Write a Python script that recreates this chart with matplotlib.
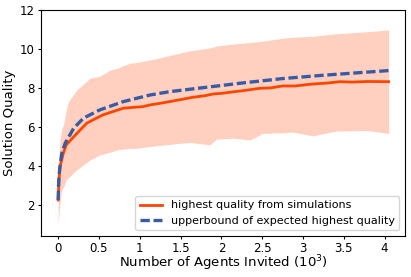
import matplotlib
matplotlib.use("Agg")
import matplotlib.pyplot as plt

# values (x in thousands of agents)
sim_x = [0.0, 0.01, 0.025, 0.065, 0.1, 0.23, 0.35, 0.55, 0.8, 1.04, 1.13, 1.25, 1.37,
         1.5, 1.65, 1.8, 1.9, 2.0, 2.15, 2.27, 2.47, 2.6, 2.75, 2.9, 3.12, 3.3, 3.45,
         3.6, 3.8, 4.05]
sim_y = [2.25, 3.3, 4.0, 4.67, 5.08, 5.67, 6.19, 6.62, 6.96, 7.04, 7.13, 7.21, 7.3,
         7.4, 7.52, 7.6, 7.69, 7.72, 7.8, 7.86, 7.98, 8.0, 8.1, 8.1, 8.2, 8.25, 8.32,
         8.3, 8.33, 8.32]

bound_x = [0.0, 0.005, 0.01, 0.02, 0.045, 0.086, 0.19, 0.31, 0.51, 0.8, 1.13, 1.37,
           1.75, 2.25, 2.75, 3.25, 3.75, 4.05]
bound_y = [2.25, 3.0, 3.4, 3.9, 4.65, 5.16, 5.93, 6.45, 6.87, 7.3, 7.64, 7.81,
           8.0, 8.25, 8.48, 8.65, 8.8, 8.89]

band_x = [0.0, 0.01, 0.025, 0.045, 0.065, 0.1, 0.126, 0.23, 0.39, 0.51, 0.64, 0.72,
          0.88, 0.96, 1.2, 1.5, 1.61, 1.86, 1.94, 2.14, 2.35, 2.51, 2.75, 2.88, 3.12,
          3.41, 3.78, 3.98, 4.05]
band_hi = [2.5, 4.5, 5.4, 5.9, 6.1, 6.9, 7.3, 7.9, 8.5, 8.6, 8.92, 9.0,
           9.27, 9.3, 9.5, 9.8, 9.9, 10.05, 10.15, 10.25, 10.33, 10.4, 10.55, 10.6, 10.65,
           10.78, 10.88, 10.95, 10.97]
band_lo = [1.0, 1.5, 2.2, 2.77, 2.9, 3.28, 3.4, 3.8, 4.3, 4.56, 4.7, 4.82,
           4.9, 4.9, 5.03, 5.16, 5.2, 5.08, 5.37, 5.42, 5.33, 5.67, 5.7, 5.73, 5.54,
           5.79, 5.81, 5.71, 5.65]

xticks = [0, 0.5, 1, 1.5, 2, 2.5, 3, 3.5, 4]
xticklabels = ["0", "0.5", "1", "1.5", "2", "2.5", "3", "3.5", "4"]
yticks = [2, 4, 6, 8, 10, 12]

fig = plt.figure(figsize=(4.11, 2.77), dpi=100)
ax = fig.add_axes([0.0998, 0.148, 0.8856, 0.816])

ax.fill_between(band_x, band_lo, band_hi, color='#ff4500', alpha=0.25, linewidth=0)
ax.plot(sim_x, sim_y, color='#ff4500', lw=2, label='highest quality from simulations')
ax.plot(bound_x, bound_y, color='#3a5ba3', lw=2.4, ls='--', dashes=(2.8, 1.1),
        label='upperbound of expected highest quality')

ax.set_xlim(-0.21, 4.25)
ax.set_ylim(0.4, 12)
ax.set_xticks(xticks)
ax.set_xticklabels(xticklabels)
ax.set_yticks(yticks)
ax.tick_params(labelsize=8.5, length=2.5, pad=2)
ax.set_xlabel(r'Number of Agents Invited ($10^3$)', fontsize=9.5, labelpad=-1)
ax.set_ylabel('Solution Quality', fontsize=9.5, labelpad=3)
ax.legend(loc='lower right', fontsize=8)

fig.savefig('out.png', dpi=100)
